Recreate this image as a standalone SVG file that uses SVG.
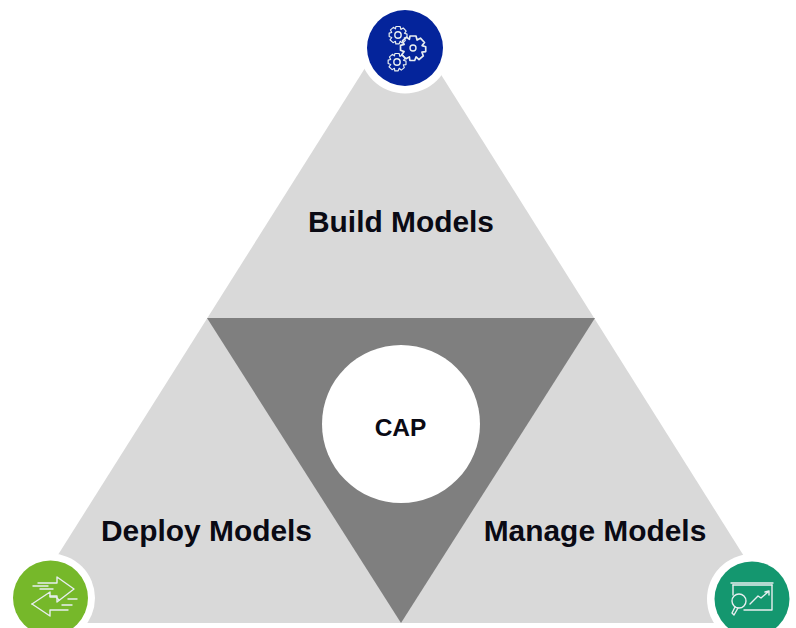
<svg xmlns="http://www.w3.org/2000/svg" width="796" height="628" viewBox="0 0 796 628">
<defs>
<style>
.t{font-family:"Liberation Sans",Arial,sans-serif;font-weight:700;fill:#0a0a14;text-anchor:middle}
.i{fill:none;stroke:#e8eef0;stroke-width:1.4;stroke-linejoin:round;stroke-linecap:round}
</style>
<path id="gear" d="M-2.500-10 2.500-10 3.400-6.600 6.200-8.200 9.600-4.600 7.600-2 10.600-1 10.600 3 7.400 3.400 8.600 6.600 5 9.600 2.600 7.400 1.400 10.400-2.600 10.400-3 7.400-5.800 9-9.400 5.600-7.400 3-10.400 1.800-10.400-2.200-7.400-3-8.800-6-5.400-9-3-7.200Z"/>
</defs>
<rect width="796" height="628" fill="#fff"/>
<g id="triangle">
<path d="M401 11 786 623H15Z" fill="#d9d9d9"/>
</g>
<g id="center-triangle"><path d="M207 318H595L401 623Z" fill="#7f7f7f"/></g>
<g id="cap"><circle cx="401" cy="424" r="79" fill="#fff"/><text class="t" x="400.500" y="436" font-size="24.500">CAP</text></g>
<g id="build">
<circle cx="405" cy="48" r="45.500" fill="#fff"/><circle cx="405" cy="48" r="38" fill="#04249b"/>
<g class="i"><use href="#gear" transform="translate(398 35) scale(.85)"/><circle cx="398" cy="35" r="3.200"/><use href="#gear" transform="translate(413 48) scale(1.200)"/><circle cx="413" cy="48" r="3"/><use href="#gear" transform="translate(397 62) scale(.85)"/><circle cx="397" cy="62" r="3.200"/></g>
<text class="t" x="401" y="232" font-size="29.900">Build Models</text>
</g>
<g id="deploy">
<circle cx="50.500" cy="598" r="44.500" fill="#fff"/><circle cx="50.500" cy="598" r="37.500" fill="#76b82a"/>
<g class="i"><path d="M38 583H57V577L74 589 57 602V596H50"/><path d="M32 604 50 592V597H56L59 600"/><path d="M32 604 50 616V610H68"/><path d="M33 586H48M40 589H53M68 599H77M62 605H72"/></g>
<text class="t" x="206.500" y="541" font-size="29.900">Deploy Models</text>
</g>
<g id="manage">
<circle cx="752" cy="599" r="45" fill="#fff"/><circle cx="752" cy="599" r="37.500" fill="#14976f"/>
<g class="i"><path d="M731 583H773M733 585H772"/><path d="M733 585V595M744 610H772V585"/><circle cx="739" cy="601" r="7"/><path d="M735 607 732 613 734 615 738 608"/><path d="M750 604 758 596 761 598 768 592M765 592 769 591V595"/></g>
<text class="t" x="595" y="541" font-size="29.900">Manage Models</text>
</g>
</svg>
